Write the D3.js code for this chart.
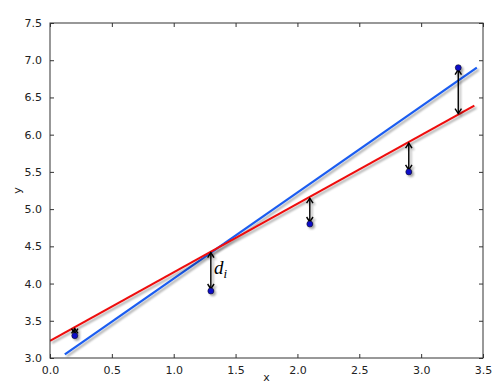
<!DOCTYPE html>
<html><head><meta charset="utf-8">
<script src="https://cdn.jsdelivr.net/npm/d3@7"></script>
<style>body{margin:0;background:#fff}svg{display:block}</style>
</head><body>
<script>
const xs = [0.2, 1.3, 2.1, 2.9, 3.3];
const ys = [3.3, 3.9, 4.8, 5.5, 6.9];
const arrowEnds = [3.41, 4.43, 5.16, 5.90, 6.27];
const redX = [0.0, 3.43];
const redY = [3.23, 6.39];
const blueX = [0.12, 3.45];
const blueY = [3.05, 6.90];
const xTicks = [0.0, 0.5, 1.0, 1.5, 2.0, 2.5, 3.0, 3.5];
const yTicks = [3.0, 3.5, 4.0, 4.5, 5.0, 5.5, 6.0, 6.5, 7.0, 7.5];

const W = 500, H = 392;
const L = 50, R = 483, T = 23, B = 358;
const svg = d3.select("body").append("svg").attr("width", W).attr("height", H);
const defs = svg.append("defs");
const f = defs.append("filter").attr("id","shadow").attr("x","-20%").attr("y","-20%").attr("width","140%").attr("height","140%");
f.append("feOffset").attr("in","SourceAlpha").attr("dx",2).attr("dy",2).attr("result","o");
f.append("feGaussianBlur").attr("in","o").attr("stdDeviation",1.3).attr("result","b");
f.append("feComponentTransfer").attr("in","b").attr("result","c")
  .append("feFuncA").attr("type","linear").attr("slope",0.35);
const m = f.append("feMerge");
m.append("feMergeNode").attr("in","c");
m.append("feMergeNode").attr("in","SourceGraphic");
defs.append("clipPath").attr("id","clip").append("rect").attr("x",L).attr("y",T).attr("width",R-L).attr("height",B-T);

const x = d3.scaleLinear().domain([0, 3.5]).range([L, R]);
const y = d3.scaleLinear().domain([3.0, 7.5]).range([B, T]);

const plot = svg.append("g").attr("clip-path","url(#clip)");
const line = d3.line().x(d=>x(d[0])).y(d=>y(d[1]));
plot.append("path").datum(d3.zip(blueX, blueY)).attr("d", line)
  .attr("stroke","#1a5cf0").attr("stroke-width",2.2).attr("fill","none").attr("filter","url(#shadow)");
plot.append("path").datum(d3.zip(redX, redY)).attr("d", line)
  .attr("stroke","#ee1111").attr("stroke-width",2.2).attr("fill","none").attr("filter","url(#shadow)");

// arrows
const ag = plot.append("g").attr("filter","url(#shadow)");
xs.forEach((xv,i)=>{
  const px = x(xv);
  let y1 = y(ys[i]), y2 = y(arrowEnds[i]);
  const dir = y2 < y1 ? -1 : 1;
  y1 += dir*2; y2 -= dir*1;
  ag.append("line").attr("x1",px).attr("x2",px).attr("y1",y1).attr("y2",y2)
    .attr("stroke","#000").attr("stroke-width",1.4);
  const h = 5, w = 3.2;
  [[y1, dir],[y2, -dir]].forEach(([ty, d])=>{
    ag.append("path").attr("d",`M${px-w},${ty+d*h}L${px},${ty}L${px+w},${ty+d*h}`)
      .attr("stroke","#000").attr("stroke-width",1.4).attr("fill","none");
  });
});

plot.append("g").attr("filter","url(#shadow)").selectAll("circle").data(d3.zip(xs, ys)).join("circle")
  .attr("cx",d=>x(d[0])).attr("cy",d=>y(d[1])).attr("r",3)
  .attr("fill","#1010c8").attr("stroke","#000").attr("stroke-width",0.5);

// d_i label
const lab = svg.append("text").attr("x", 214).attr("y", 274)
  .attr("font-family","'Liberation Serif', serif").attr("font-style","italic").attr("font-size",19);
lab.append("tspan").text("d");
lab.append("tspan").attr("font-size",13).attr("dy",4).text("i");

// frame
svg.append("rect").attr("x",L).attr("y",T).attr("width",R-L).attr("height",B-T)
  .attr("fill","none").attr("stroke","#333").attr("stroke-width",1);

const font = "'DejaVu Sans', sans-serif";
const axB = svg.append("g").attr("transform",`translate(0,${B})`)
  .call(d3.axisBottom(x).tickValues(xTicks).tickFormat(d3.format(".1f")).tickSizeInner(-4).tickSizeOuter(0).tickPadding(8));
const axT = svg.append("g").attr("transform",`translate(0,${T})`)
  .call(d3.axisTop(x).tickValues(xTicks).tickFormat("").tickSizeInner(-4).tickSizeOuter(0));
const axL = svg.append("g").attr("transform",`translate(${L},0)`)
  .call(d3.axisLeft(y).tickValues(yTicks).tickFormat(d3.format(".1f")).tickSizeInner(-4).tickSizeOuter(0).tickPadding(8));
const axR = svg.append("g").attr("transform",`translate(${R},0)`)
  .call(d3.axisRight(y).tickValues(yTicks).tickFormat("").tickSizeInner(-4).tickSizeOuter(0));
[axB,axT,axL,axR].forEach(a=>{
  a.select(".domain").remove();
  a.selectAll(".tick line").attr("stroke","#333");
  a.selectAll("text").attr("font-family",font).attr("font-size",11).attr("fill","#222");
});

svg.append("text").attr("x",(L+R)/2).attr("y",381).attr("text-anchor","middle")
  .attr("font-family",font).attr("font-size",11).attr("fill","#222").text("x");
svg.append("text").attr("transform",`translate(21,${(T+B)/2}) rotate(-90)`).attr("text-anchor","middle")
  .attr("font-family",font).attr("font-size",11).attr("fill","#222").text("y");
</script>
</body></html>
